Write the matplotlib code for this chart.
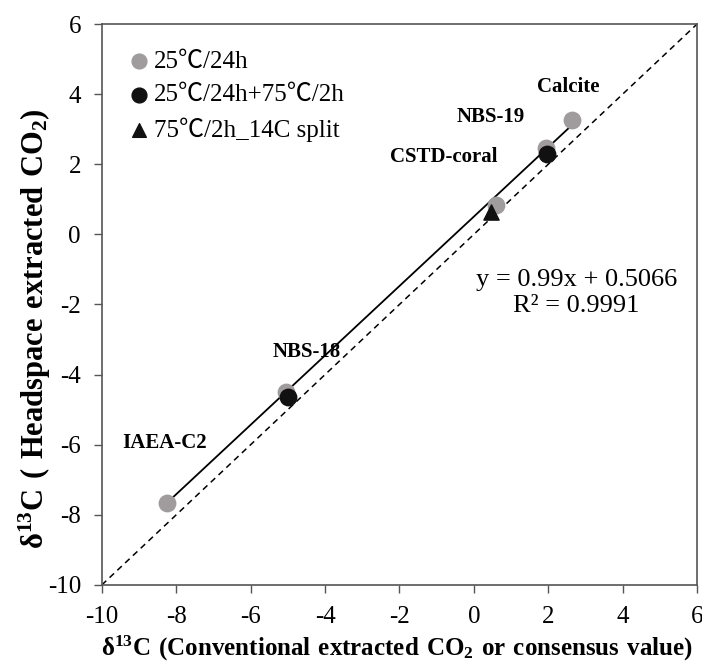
import matplotlib
matplotlib.use("Agg")
import matplotlib.pyplot as plt
import numpy as np

# data
names = ["IAEA-C2", "NBS-18", "CSTD-coral", "NBS-19", "Calcite"]
x_24h = [-8.25, -5.05, 0.60, 1.95, 2.65]
y_24h = [-7.65, -4.50, 0.85, 2.45, 3.25]
x_24h75 = [-5.00, 1.97]
y_24h75 = [-4.65, 2.30]
x_split = [0.47]
y_split = [0.65]
slope, intercept, r2 = 0.99, 0.5066, 0.9991
ticks = [-10, -8, -6, -4, -2, 0, 2, 4, 6]

# label anchor positions (data coords)
label_x = [-8.3, -4.5, -0.8, 0.45, 2.55]
label_y = [-5.95, -3.35, 2.2, 3.35, 4.2]

plt.rcParams['font.family'] = ['Liberation Serif', 'Noto Sans CJK SC', 'DejaVu Sans']
plt.rcParams['mathtext.fontset'] = 'custom'
plt.rcParams['mathtext.rm'] = 'Liberation Serif'
plt.rcParams['mathtext.bf'] = 'Liberation Serif:bold'
plt.rcParams['axes.unicode_minus'] = False

fig = plt.figure(figsize=(7.02, 6.67), dpi=100)
ax = fig.add_axes([0.145, 0.123, 0.848, 0.841])

ax.plot([-10, 6], [-10, 6], ls=(0, (4, 3)), color='black', lw=1.1, zorder=1)
xf = np.array([min(x_24h), max(x_24h)])
ax.plot(xf, slope * xf + intercept, color='black', lw=1.3, zorder=2)

ax.scatter(x_24h, y_24h, s=140, color='#a09c9e', zorder=3, label='25℃/24h')
ax.scatter(x_24h75, y_24h75, s=140, color='#111111', zorder=4, label='25℃/24h+75℃/2h')
ax.scatter(x_split, y_split, s=120, marker='^', color='#111111', zorder=5,
           label='75℃/2h_14C split')

for n, lx, ly in zip(names, label_x, label_y):
    ax.text(lx, ly, n, fontsize=15, fontweight='bold', ha='center', va='center')

ax.text(2.75, -1.3, f'y = {slope}x + {intercept}', fontsize=19, ha='center', va='center')
ax.text(2.75, -2.03, f'R² = {r2}', fontsize=19, ha='center', va='center')

ax.set_xlim(-10, 6)
ax.set_ylim(-10, 6)
ax.set_xticks(ticks)
ax.set_yticks(ticks)
ax.tick_params(labelsize=18, direction='out', length=6, width=1, color='#555555', pad=9)
for s in ax.spines.values():
    s.set_color('#555555')
    s.set_linewidth(1.2)

fig.text(0.566, 0.028,
         r'$\mathbf{\delta^{13}C\ (Conventional\ extracted\ CO_2\ or\ consensus\ value)}$',
         fontsize=18, ha='center', va='center')
fig.text(0.05, 0.508, r'$\mathbf{\delta^{13}C\ (\ Headspace\ extracted\ CO_2)}$',
         fontsize=22, rotation=90, ha='center', va='center')

ax.legend(loc='upper left', frameon=False, fontsize=18, handletextpad=-0.2,
          handlelength=1.6, borderaxespad=0.3, labelspacing=0.45, markerscale=0.9,
          bbox_to_anchor=(0.0, 0.985))

fig.savefig('out.png', dpi=100)
